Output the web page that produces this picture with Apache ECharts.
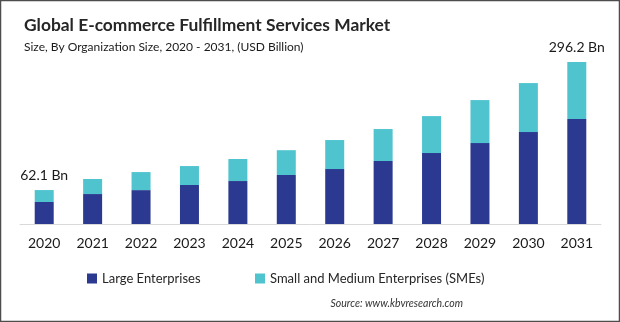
<!DOCTYPE html>
<html>
<head>
<meta charset="utf-8">
<script src="https://cdn.jsdelivr.net/npm/echarts@6/dist/echarts.min.js"></script>
<style>
html,body{margin:0;padding:0;background:#fff;}
#chart{width:620px;height:322px;}
</style>
</head>
<body>
<div id="chart"></div>
<script>
const categories = ['2020','2021','2022','2023','2024','2025','2026','2027','2028','2029','2030','2031'];
const largeEnterprises = [40.2, 54.8, 62.0, 71.3, 78.6, 89.6, 100.5, 115.2, 129.8, 148.0, 168.2, 192.0];
const smes = [21.9, 27.5, 33.0, 34.7, 40.3, 45.4, 53.1, 58.5, 67.6, 78.7, 89.6, 104.2];
const seriesNames = ['Large Enterprises', 'Small and Medium Enterprises (SMEs)'];
const labelledIndexes = [0, 11];

const totals = largeEnterprises.map((v, i) => v + smes[i]);
const FONT = 'Lato';

const legendText = {fontFamily: FONT, fontSize: 13, color: '#262626'};
const chart = echarts.init(document.getElementById('chart'), null, {renderer: 'canvas'});
chart.setOption({
  animation: false,
  backgroundColor: '#fff',
  textStyle: {fontFamily: FONT},
  title: {
    text: 'Global E-commerce Fulfillment Services Market',
    subtext: 'Size, By Organization Size, 2020 - 2031, (USD Billion)',
    left: 19, top: 12, itemGap: 7,
    textStyle: {fontFamily: FONT, fontSize: 17.4, fontWeight: 'bold', color: '#262626'},
    subtextStyle: {fontFamily: FONT, fontSize: 12, color: '#1a1a1a'}
  },
  legend: [
    {
      bottom: 32, left: 82,
      itemWidth: 10, itemHeight: 10, icon: 'rect',
      textStyle: legendText, data: [seriesNames[0]]
    },
    {
      bottom: 32, left: 250,
      itemWidth: 10, itemHeight: 10, icon: 'rect',
      textStyle: legendText, data: [seriesNames[1]]
    }
  ],
  graphic: [
    {type: 'rect', shape: {x: 0.5, y: 0.5, width: 619, height: 321}, style: {fill: 'none', stroke: '#4d4d4d', lineWidth: 1.5}, silent: true},
    {type: 'text', right: 157, bottom: 13, style: {text: 'Source: www.kbvresearch.com', font: 'italic 10.5px ' + FONT, fill: '#333'}}
  ],
  grid: {left: 20, right: 19, top: 60, height: 164, containLabel: false},
  xAxis: {
    type: 'category', data: categories,
    axisLine: {lineStyle: {color: '#d9d9d9', width: 1}},
    axisTick: {show: false},
    axisLabel: {fontFamily: FONT, fontSize: 14, color: '#1a1a1a', margin: 12}
  },
  yAxis: {
    type: 'value', min: 0, max: 300, show: false,
    splitLine: {show: false}
  },
  series: [
    {
      name: seriesNames[0], type: 'bar', stack: 'total', barWidth: 19,
      itemStyle: {color: '#2b3990'},
      data: largeEnterprises
    },
    {
      name: seriesNames[1], type: 'bar', stack: 'total', barWidth: 19,
      itemStyle: {color: '#4fc4cf'},
      label: {
        show: true, position: 'top', distance: 8,
        fontFamily: FONT, fontSize: 14, color: '#1a1a1a',
        formatter: p => labelledIndexes.includes(p.dataIndex) ? totals[p.dataIndex].toFixed(1) + ' Bn' : ''
      },
      data: smes
    }
  ]
});
</script>
</body>
</html>
